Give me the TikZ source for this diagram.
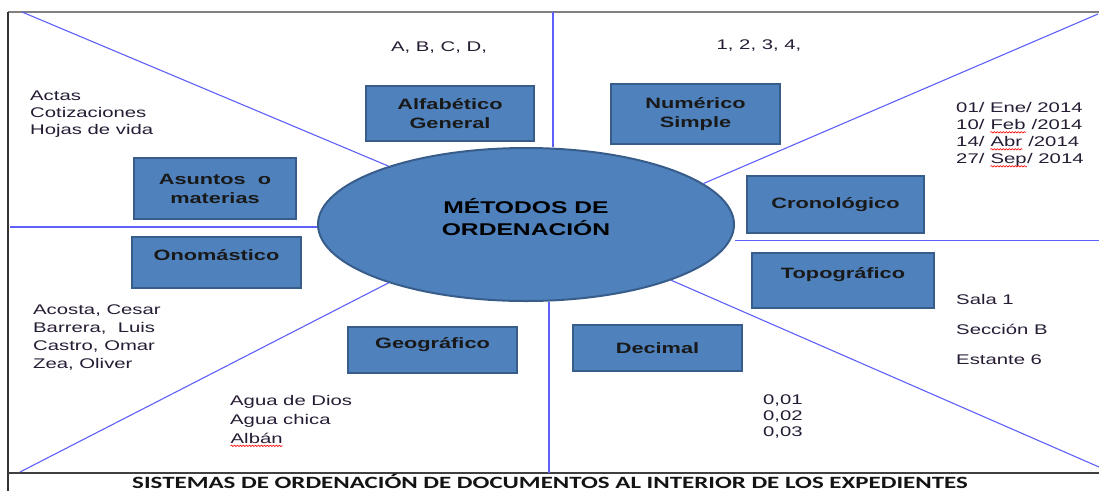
\documentclass[tikz,border=0pt]{standalone}
\usepackage{fontspec}
\setmainfont{Liberation Sans}[FakeStretch=1.45]
\newfontfamily\titlefont{Carlito}[FakeStretch=1.45]
\usetikzlibrary{shapes.geometric,decorations.pathmorphing}
\definecolor{boxfill}{RGB}{79,129,189}
\definecolor{boxedge}{RGB}{56,93,138}
\definecolor{sepline}{RGB}{95,95,250}
\definecolor{listtext}{RGB}{38,28,52}
\newcommand\redwave[1]{\tikz[baseline=(w.base)]{\node[inner sep=0pt,text=listtext] (w) {#1};
	\draw[red,line width=0.6pt,decorate,decoration={snake,amplitude=0.7pt,segment length=3pt}]
	([yshift=-2.5pt]w.base west) -- ([yshift=-2.5pt]w.base east);}}
\begin{document}
\begin{tikzpicture}[x=1pt,y=-1pt,
	metodo/.style={rectangle,draw=boxedge,fill=boxfill,line width=2.2pt,inner sep=0pt,align=center,
		text=black!90,font=\fontsize{15}{19}\selectfont\bfseries},
	lista/.style={anchor=west,inner sep=0pt,align=left,text=listtext,font=\fontsize{14}{17}\selectfont},
	division/.style={draw=sepline,line width=1.1pt}]
	\useasboundingbox (0,0) rectangle (1099,491);
	\coordinate (ftl) at (8,12);
	\coordinate (ftr) at (1099,12);
	\coordinate (fbl) at (8,473);
	\coordinate (fbr) at (1099,473);
	\coordinate (fend) at (8,491);
	\draw[gray,line width=1.3pt] (ftl) -- (ftr);
	\draw[black!80,line width=1.3pt] (ftl) -- (fend);
	\draw[black!75,line width=2pt] (fbl) -- (fbr);
	\node[ellipse,draw=boxedge,fill=boxfill,line width=2pt,minimum width=416,minimum height=153,inner sep=0pt,
		align=center,font=\fontsize{17}{22}\selectfont\bfseries] (metodos) at (526,224.5)
		{MÉTODOS DE\\ORDENACIÓN\\[-6pt]~};
	\coordinate (dtl) at (22,12);
	\coordinate (dtr) at (1098,14);
	\coordinate (dbr) at (1099,467);
	\coordinate (dbl) at (20,472);
	\coordinate (vt) at (553,12);
	\coordinate (vb) at (549,473);
	\coordinate (hl) at (10,227);
	\coordinate (hr) at (1099,240.5);
	\draw[division] (dtl) -- (metodos.157.6);
	\draw[division] (metodos.13) -- (dtr);
	\draw[division] (metodos.339) -- (dbr);
	\draw[division] (metodos.203.7) -- (dbl);
	\draw[division] (vt) -- (vt |- metodos.north);
	\draw[division] (vb) -- (vb |- metodos.south);
	\draw[division] (hl) -- (hl -| metodos.west);
	\draw[division] (hr) -- (hr -| metodos.east);
	\node[metodo,minimum width=168,minimum height=55] (alfabetico) at (450,113.5) {Alfabético\\General};
	\node[metodo,minimum width=169,minimum height=60] (numerico) at (695.5,114) {Numérico\\Simple};
	\node[metodo,minimum width=162,minimum height=61] (asuntos) at (215,188.5) {Asuntos~ o\\materias};
	\node[metodo,minimum width=177,minimum height=57] (cronologico) at (835.5,204.5) {Cronológico};
	\node[metodo,minimum width=169,minimum height=51] (onomastico) at (216.5,262.5) {Onomástico\\[-4pt]~};
	\node[metodo,minimum width=182,minimum height=55] (topografico) at (843,280.5) {Topográfico\\[-4pt]~};
	\node[metodo,minimum width=169,minimum height=46] (geografico) at (432.5,350) {Geográfico\\[-4pt]~};
	\node[metodo,minimum width=169,minimum height=46] (decimal) at (657.5,348) {Decimal};
	\node[lista,anchor=center] (letras) at (439,48) {A, B, C, D,};
	\node[lista,anchor=center] (numeros) at (759,46) {1, 2, 3, 4,};
	\node[lista] (asuntoslista) at (30,114) {Actas\\Cotizaciones\\Hojas de vida};
	\node[lista] (fechas) at (956,135) {01/ Ene/ 2014\\10/ \redwave{Feb} /2014\\14/ \redwave{Abr} /2014\\27/ \redwave{Sep}/ 2014};
	\node[lista,font=\fontsize{14}{18}\selectfont] (nombres) at (33,337) {Acosta, Cesar\\Barrera,~ Luis\\Castro, Omar\\Zea, Oliver};
	\node[lista,font=\fontsize{14}{19}\selectfont] (lugares) at (230,421) {Agua de Dios\\Agua chica\\\redwave{Albán}};
	\node[lista,font=\fontsize{14}{16}\selectfont] (decimales) at (763,416.5) {0,01\\0,02\\0,03};
	\node[lista,font=\fontsize{14}{30}\selectfont] (ubicacion) at (956,329) {Sala 1\\Sección B\\Estante 6};
	\node[inner sep=0pt,anchor=base,text=black!92,font=\titlefont\fontsize{17.2}{20}\selectfont\bfseries] (titulo)
		at (550,488.5) {SISTEMAS DE ORDENACIÓN DE DOCUMENTOS AL INTERIOR DE LOS EXPEDIENTES};
\end{tikzpicture}
\end{document}
